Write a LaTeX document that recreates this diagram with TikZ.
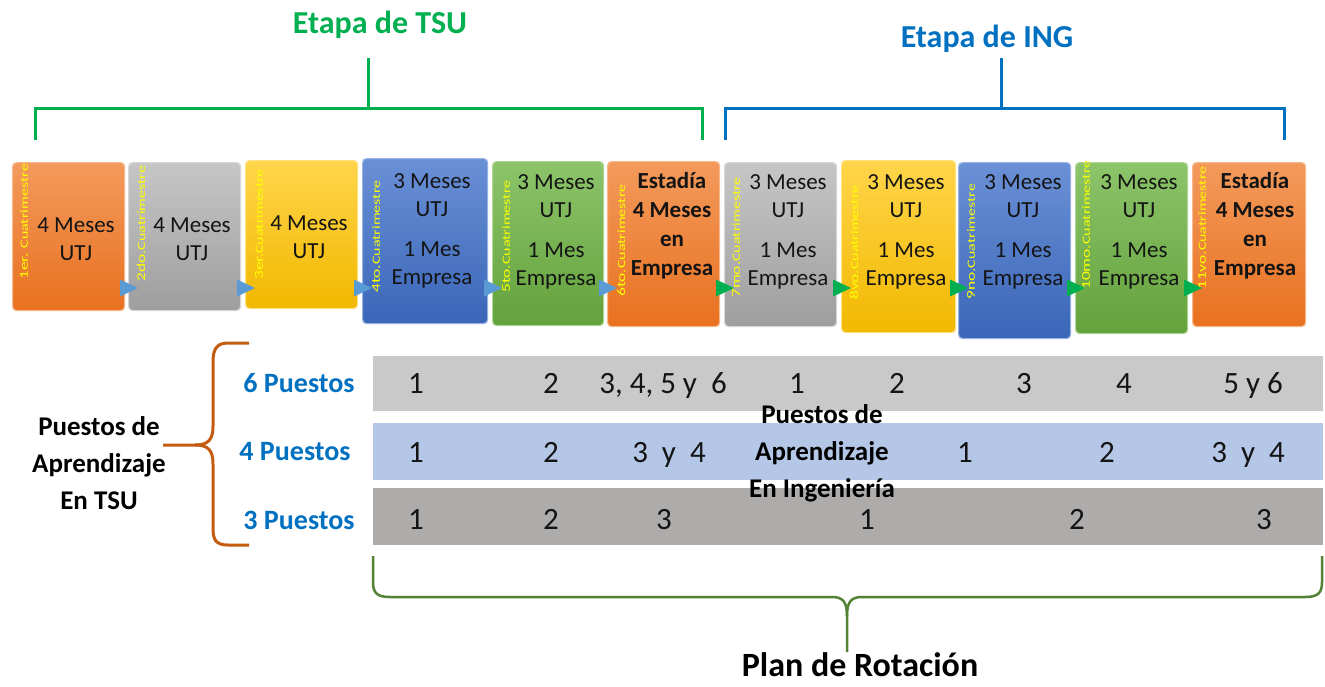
\documentclass[tikz,border=0pt]{standalone}
\usepackage{fontspec}
\setmainfont{Carlito}
\usetikzlibrary{calc}
\definecolor{orgB}{HTML}{E8711F}\definecolor{orgT}{HTML}{F39A5C}
\definecolor{gryB}{HTML}{9E9E9E}\definecolor{gryT}{HTML}{C6C6C6}
\definecolor{yelB}{HTML}{F2B800}\definecolor{yelT}{HTML}{FFD54A}
\definecolor{bluB}{HTML}{3A66B8}\definecolor{bluT}{HTML}{6A90D6}
\definecolor{grnB}{HTML}{64A23C}\definecolor{grnT}{HTML}{8CC46A}
\definecolor{triB}{HTML}{5B9BD5}\definecolor{triG}{HTML}{00B050}
\definecolor{tsuG}{HTML}{00B050}\definecolor{ingB}{HTML}{0070C0}
\definecolor{row1}{HTML}{C9C9C9}\definecolor{row2}{HTML}{B4C7E7}\definecolor{row3}{HTML}{AEABAB}
\definecolor{brO}{HTML}{C55A11}\definecolor{brG}{HTML}{548235}
\definecolor{labY}{HTML}{FFFF00}\definecolor{txt}{HTML}{141414}
\newcommand\cuat[1]{\scalebox{1.45}[1]{\fontsize{12}{12}\selectfont #1\fontsize{11}{11}\selectfont Cuatrimestre}}
\newcommand\arr[3]{\fill[#3] (#1-9,#2-8.5) -- (#1+9,#2) -- (#1-9,#2+8.5) -- cycle;}
\begin{document}
\begin{tikzpicture}[x=1pt,y=-1pt,
  semibox/.style={anchor=north west, rounded corners=4pt, inner sep=0pt, line width=1.2pt},
  cOrg/.style={semibox, top color=orgT, bottom color=orgB, draw=orgT!70!white},
  cGry/.style={semibox, top color=gryT, bottom color=gryB, draw=gryT!70!white},
  cYel/.style={semibox, top color=yelT, bottom color=yelB, draw=yelT!70!white},
  cBlu/.style={semibox, top color=bluT, bottom color=bluB, draw=bluT!70!white},
  cGrn/.style={semibox, top color=grnT, bottom color=grnB, draw=grnT!70!white},
  boxtxt/.style={align=center, text=txt, inner sep=0pt, font=\fontsize{23}{28}\selectfont},
  boxbold/.style={boxtxt, font=\fontsize{23}{29}\selectfont\bfseries},
  lab/.style={rotate=90, anchor=west, text=labY, inner sep=0pt},
  rowbox/.style={anchor=north west, inner sep=0pt, minimum width=951pt, draw=white, line width=0.8pt},
  rowtxt/.style={text=txt, font=\fontsize{31}{31}\selectfont, inner sep=0pt, anchor=base},
  puesto/.style={text=ingB, font=\fontsize{28}{28}\selectfont\bfseries, inner sep=0pt},
  blk/.style={align=center, text=black, font=\fontsize{27}{37}\selectfont\bfseries, inner sep=0pt},
  title/.style={font=\fontsize{32}{32}\selectfont\bfseries, inner sep=0pt}]
\useasboundingbox (0,0) rectangle (1325,686);
\fill[white] (0,0) rectangle (1325,686);

% titles and brackets
\node[title, text=tsuG] (ttsu) at (380,25) {Etapa de TSU};
\node[title, text=ingB] (ting) at (987,39) {Etapa de ING};
\draw[tsuG, line width=3pt] (35,140) -- (35,108) -- (702,108) -- (702,140);
\draw[tsuG, line width=3pt] (368,108) -- (368,58);
\draw[ingB, line width=3pt] (725,140) -- (725,108) -- (1284,108) -- (1284,140);
\draw[ingB, line width=3pt] (1001,108) -- (1001,58);

% boxes
\node[cOrg, minimum width=112pt, minimum height=148pt] (b1) at (12,162) {};
\node[cGry, minimum width=112pt, minimum height=148pt] (b2) at (128,162) {};
\node[cYel, minimum width=112pt, minimum height=148pt] (b3) at (245,160) {};
\node[cBlu, minimum width=125pt, minimum height=165pt] (b4) at (362,158) {};
\node[cGrn, minimum width=111pt, minimum height=164pt] (b5) at (492,161) {};
\node[cOrg, minimum width=112pt, minimum height=165pt] (b6) at (607,161) {};
\node[cGry, minimum width=112pt, minimum height=164pt] (b7) at (724,162) {};
\node[cYel, minimum width=114pt, minimum height=172pt] (b8) at (841,160) {};
\node[cBlu, minimum width=112pt, minimum height=176pt] (b9) at (958,162) {};
\node[cGrn, minimum width=112pt, minimum height=171pt] (b10) at (1075,162) {};
\node[cOrg, minimum width=113pt, minimum height=164pt] (b11) at (1192,162) {};

% arrows between boxes
\arr{129}{288}{triB}\arr{246}{288}{triB}\arr{363}{288}{triB}\arr{493}{288}{triB}\arr{608}{288}{triB}
\arr{725}{288}{triG}\arr{842}{288}{triG}\arr{959}{288}{triG}\arr{1076}{288}{triG}\arr{1193}{288}{triG}

% vertical labels
\node[lab] (l1) at (24,280) {\cuat{1er. }};
\node[lab] (l2) at (141,282) {\cuat{2do.}};
\node[lab] (l3) at (259,280) {\cuat{3er.}};
\node[lab] (l4) at (376,293) {\cuat{4to.}};
\node[lab] (l5) at (506,293) {\cuat{5to.}};
\node[lab] (l6) at (621,297) {\cuat{6to.}};
\node[lab] (l7) at (736,298) {\cuat{7mo.}};
\node[lab] (l8) at (854,300) {\cuat{8vo.}};
\node[lab] (l9) at (971,300) {\cuat{9no.}};
\node[lab] (l10) at (1086,290) {\cuat{10mo.}};
\node[lab] (l11) at (1202,290) {\cuat{11vo.}};

% box texts
\node[boxtxt] (x1) at (76,239) {4 Meses\\UTJ};
\node[boxtxt] (x2) at (192,239) {4 Meses\\UTJ};
\node[boxtxt] (x3) at (309,237) {4 Meses\\UTJ};
\node[boxtxt] (x4) at (432,231) {3 Meses\\UTJ\\[12pt]1 Mes\\Empresa};
\node[boxtxt] (x5) at (556,232) {3 Meses\\UTJ\\[12pt]1 Mes\\Empresa};
\node[boxbold] (x6) at (672,226) {Estadía\\4 Meses\\en\\Empresa};
\node[boxtxt] (x7) at (788,232) {3 Meses\\UTJ\\[12pt]1 Mes\\Empresa};
\node[boxtxt] (x8) at (906,232) {3 Meses\\UTJ\\[12pt]1 Mes\\Empresa};
\node[boxtxt] (x9) at (1023,232) {3 Meses\\UTJ\\[12pt]1 Mes\\Empresa};
\node[boxtxt] (x10) at (1139,232) {3 Meses\\UTJ\\[12pt]1 Mes\\Empresa};
\node[boxbold] (x11) at (1255,226) {Estadía\\4 Meses\\en\\Empresa};

% rows
\node[rowbox, fill=row1, minimum height=56pt] (r1) at (372,355) {};
\node[rowbox, fill=row2, minimum height=58pt] (r2) at (372,422) {};
\node[rowbox, fill=row3, minimum height=58pt] (r3) at (372,487) {};

\node[rowtxt] (a1) at (416,393) {1};
\node[rowtxt] (a2) at (551,393) {2};
\node[rowtxt] (a3) at (663,393) {3, 4, 5 y\ \ 6};
\node[rowtxt] (a4) at (797,393) {1};
\node[rowtxt] (a5) at (897,393) {2};
\node[rowtxt] (a6) at (1024,393) {3};
\node[rowtxt] (a7) at (1124,393) {4};
\node[rowtxt] (a8) at (1253,393) {5 y 6};

\node[rowtxt] (c1) at (416,462) {1};
\node[rowtxt] (c2) at (551,462) {2};
\node[rowtxt] (c3) at (669,462) {3\ \ y\ \ 4};
\node[rowtxt] (c4) at (965,462) {1};
\node[rowtxt] (c5) at (1107,462) {2};
\node[rowtxt] (c6) at (1248,462) {3\ \ y\ \ 4};

\node[rowtxt] (d1) at (416,529) {1};
\node[rowtxt] (d2) at (551,529) {2};
\node[rowtxt] (d3) at (664,529) {3};
\node[rowtxt] (d4) at (867,529) {1};
\node[rowtxt] (d5) at (1077,529) {2};
\node[rowtxt] (d6) at (1264,529) {3};

\node[blk] (ping) at (822,453) {Puestos de\\Aprendizaje\\En Ingeniería};

% left side
\node[puesto] (p6) at (299,383) {6 Puestos};
\node[puesto] (p4) at (295,452) {4 Puestos};
\node[puesto] (p3) at (299,520) {3 Puestos};
\node[blk] (ptsu) at (99,463) {Puestos de\\Aprendizaje\\En TSU};

\draw[brO, line width=3pt, line join=round]
  (249,343) -- (228,343) .. controls (216,343) and (213,350) .. (213,362) -- (213,426)
  .. controls (213,440) and (208,445) .. (195,445) -- (163,445);
\draw[brO, line width=3pt, line join=round]
  (195,445) .. controls (208,445) and (213,450) .. (213,464) -- (213,528)
  .. controls (213,540) and (216,545) .. (228,545) -- (249,545);

% bottom brace
\draw[brG, line width=2.5pt, line join=round]
  (373,556) -- (373,582) .. controls (373,593) and (377,597) .. (390,597) -- (832,597)
  .. controls (843,597) and (847,602) .. (847,616) -- (847,652);
\draw[brG, line width=2.5pt, line join=round]
  (1322,556) -- (1322,582) .. controls (1322,593) and (1318,597) .. (1305,597) -- (862,597)
  .. controls (851,597) and (847,602) .. (847,616);
\node[title, font=\fontsize{34}{34}\selectfont\bfseries, text=black] (plan) at (860,665) {Plan de Rotación};
\end{tikzpicture}
\end{document}
